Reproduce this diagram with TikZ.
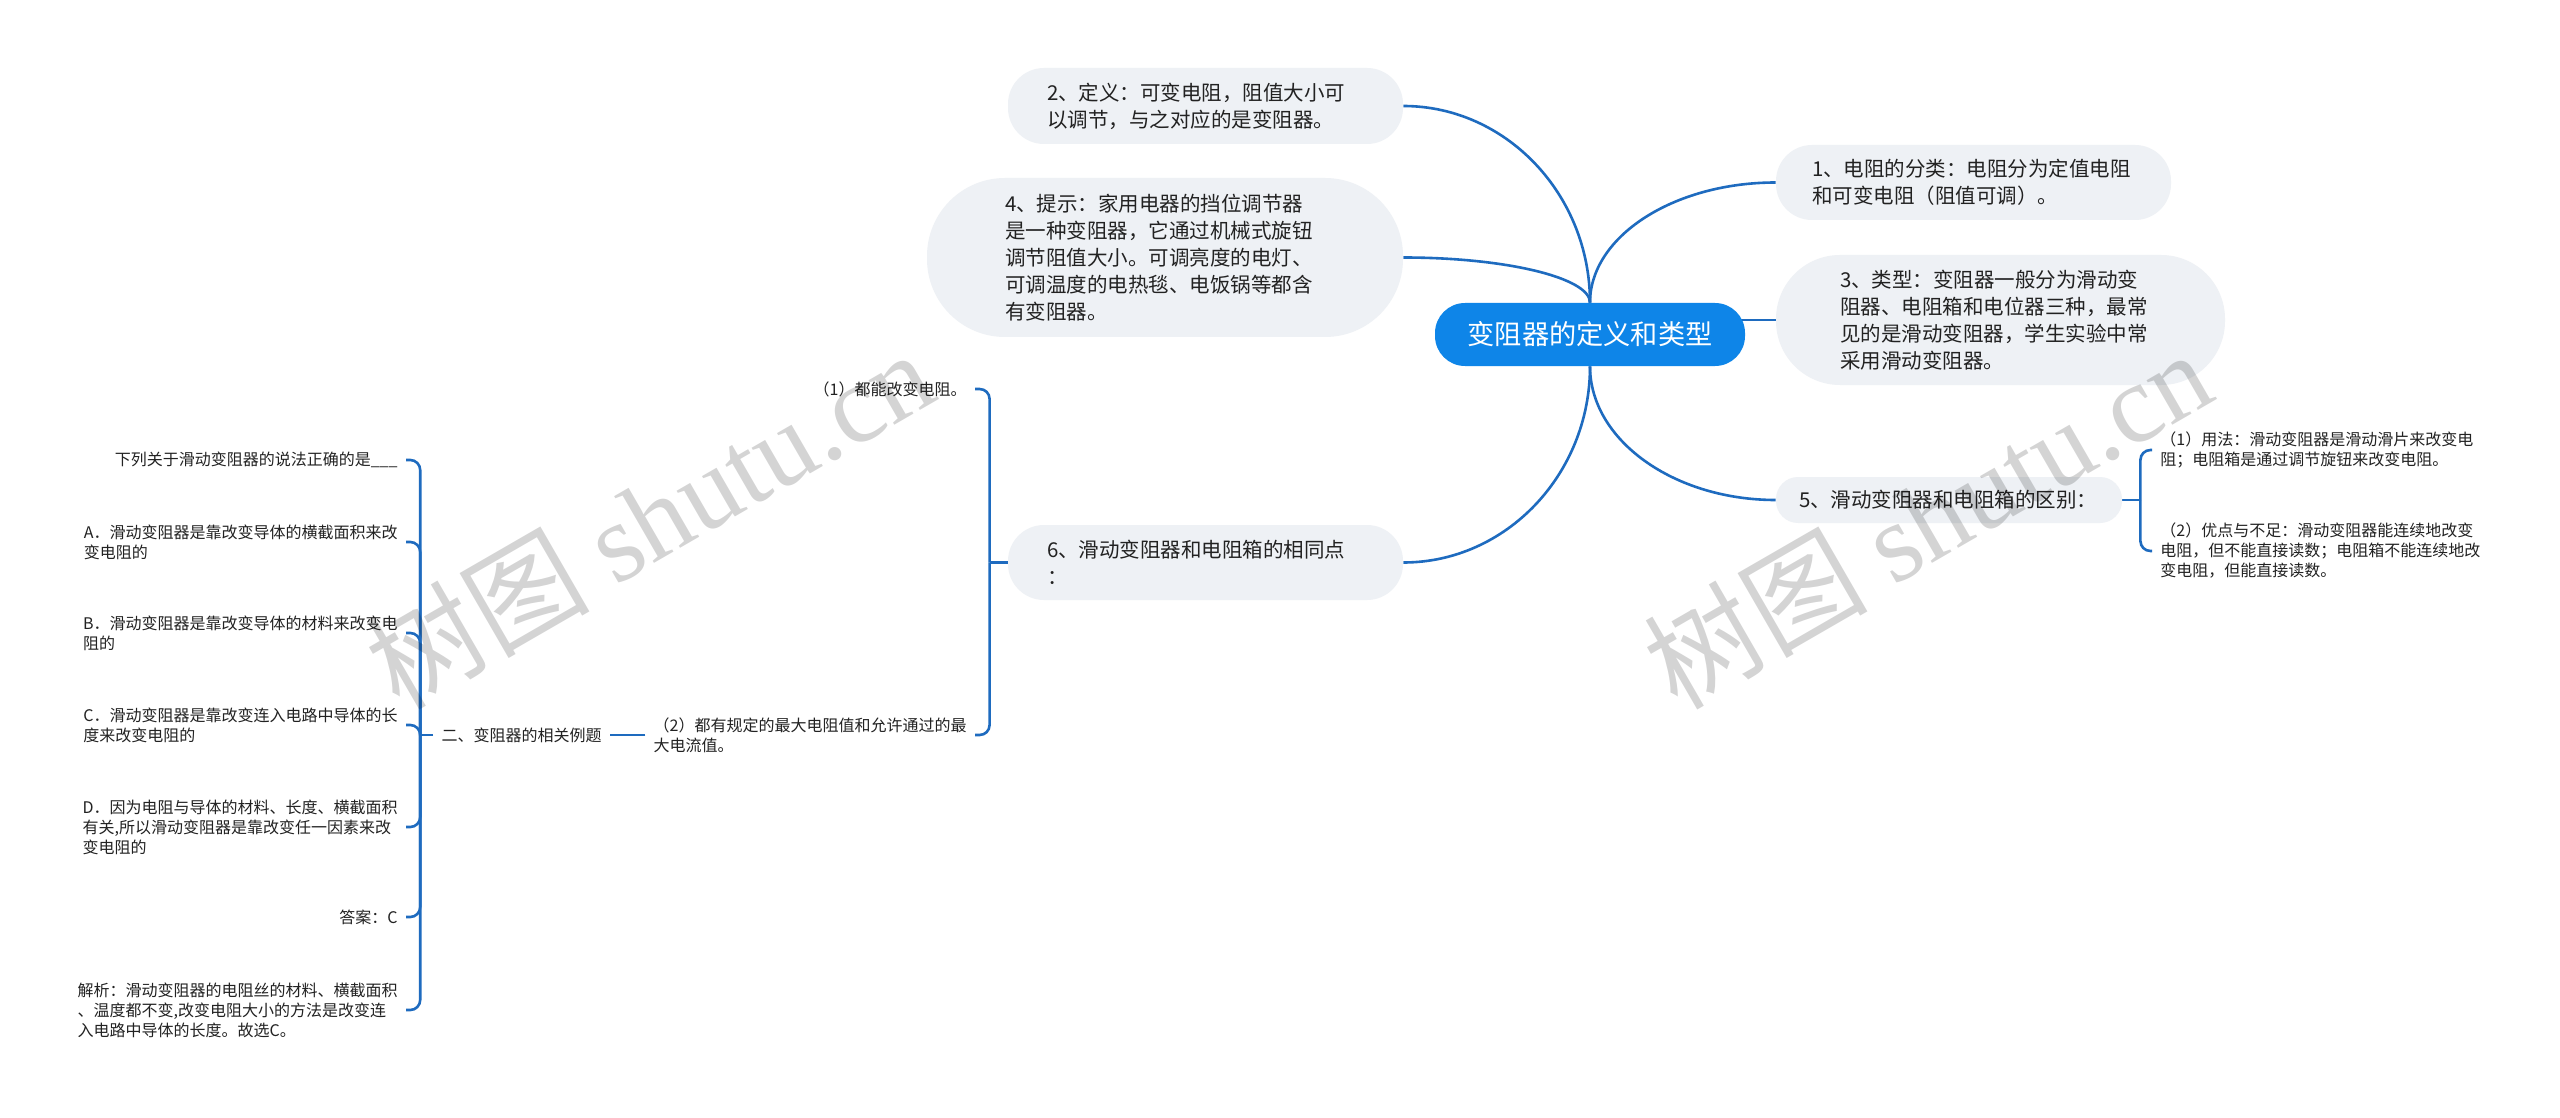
\documentclass[tikz,border=0pt]{standalone}
\usepackage{fontspec}
\setmainfont{Noto Sans CJK SC}
\newfontfamily\wmlatin{Liberation Serif}
\usepackage{tikz}
\usetikzlibrary{calc}
\usetikzlibrary{positioning}
\definecolor{rootblue}{HTML}{0E85E8}
\definecolor{linkblue}{HTML}{1E6BBF}
\definecolor{bubblegray}{HTML}{EEF1F5}
\definecolor{inkgray}{HTML}{222222}
\pgfdeclarelayer{bg}
\pgfsetlayers{bg,main}
\tikzset{>=latex}
\tikzstyle{link} = [draw = linkblue, line width = 1.3pt]
\tikzstyle{bubble} = [fill = bubblegray, text = inkgray, align = left, inner ysep = 0pt, font = \fontsize{10.25}{13.5}\selectfont]
\tikzstyle{leaf} = [text = inkgray, align = left, inner xsep = 4pt, inner ysep = 1pt, font = \fontsize{8}{10}\selectfont]
\tikzstyle{wmark} = [text = black, text opacity = 0.17, rotate = 30, inner sep = 0, font = \fontsize{56}{60}\selectfont]

\begin{document}
\begin{tikzpicture}[x = 0.5pt, y = -0.5pt]
\path [use as bounding box] (0, 0) rectangle (2560, 1118);
% centre topic
\node [fill = rootblue, text = white, rounded corners = 15pt, minimum width = 155pt, minimum height = 31.5pt, font = \fontsize{13.6}{16}\selectfont] (root) at (1590, 334.5) {变阻器的定义和类型};
% left side
\node [bubble, rounded corners = 18pt, text width = 158.5pt, inner xsep = 19.5pt, minimum height = 38pt] (def) at (1205.5, 106) {2、定义：可变电阻，阻值大小可\\以调节，与之对应的是变阻器。};
\node [bubble, rounded corners = 39pt, text width = 160pt, inner xsep = 39pt, minimum height = 79.5pt] (hint) at (1165, 257.5) {4、提示：家用电器的挡位调节器\\是一种变阻器，它通过机械式旋钮\\调节阻值大小。可调亮度的电灯、\\可调温度的电热毯、电饭锅等都含\\有变阻器。};
\node [bubble, rounded corners = 18pt, text width = 158.5pt, inner xsep = 19.5pt, minimum height = 37.5pt] (same) at (1205.5, 562.5) {6、滑动变阻器和电阻箱的相同点\\：};
% right side
\node [bubble, rounded corners = 18pt, text width = 161.5pt, inner xsep = 18pt, minimum height = 37.5pt] (cls) at (1973.5, 182.5) {1、电阻的分类：电阻分为定值电阻\\和可变电阻（阻值可调）。};
\node [bubble, rounded corners = 32pt, text width = 160.5pt, inner xsep = 32pt, minimum height = 65pt] (kind) at (2000.5, 320) {3、类型：变阻器一般分为滑动变\\阻器、电阻箱和电位器三种，最常\\见的是滑动变阻器，学生实验中常\\采用滑动变阻器。};
\node [bubble, rounded corners = 11pt, text width = 150pt, inner xsep = 11.5pt, minimum height = 23pt] (diff) at (1949, 500) {5、滑动变阻器和电阻箱的区别：};
% leaves of 5
\node [leaf, anchor = west] (use) at (2152, 450) {（1）用法：滑动变阻器是滑动滑片来改变电\\阻；电阻箱是通过调节旋钮来改变电阻。};
\node [leaf, anchor = west] (pro) at (2152, 551) {（2）优点与不足：滑动变阻器能连续地改变\\电阻，但不能直接读数；电阻箱不能连续地改\\变电阻，但能直接读数。};
% leaves of 6
\node [leaf, anchor = east] (s1) at (975, 389) {（1）都能改变电阻。};
\node [leaf, anchor = east] (s2) at (975, 735) {（2）都有规定的最大电阻值和允许通过的最\\大电流值。};
\node [leaf, anchor = east] (ex) at (610, 735) {二、变阻器的相关例题};
% example question
\node [leaf, anchor = east] (q) at (406, 460) {下列关于滑动变阻器的说法正确的是\_\_\_};
\node [leaf, anchor = east] (oa) at (406, 542) {A．滑动变阻器是靠改变导体的横截面积来改\\变电阻的};
\node [leaf, anchor = east] (ob) at (406, 633) {B．滑动变阻器是靠改变导体的材料来改变电\\阻的};
\node [leaf, anchor = east] (oc) at (406, 725) {C．滑动变阻器是靠改变连入电路中导体的长\\度来改变电阻的};
\node [leaf, anchor = east] (od) at (406, 827) {D．因为电阻与导体的材料、长度、横截面积\\有关,所以滑动变阻器是靠改变任一因素来改\\变电阻的};
\node [leaf, anchor = east] (ans) at (406, 917) {答案：C};
\node [leaf, anchor = east] (jx) at (406, 1010) {解析：滑动变阻器的电阻丝的材料、横截面积\\、温度都不变,改变电阻大小的方法是改变连\\入电路中导体的长度。故选C。};
% forks
\coordinate (forkd) at ($(diff.east) + (18, 0)$);
\coordinate (forks) at ($(same.west) + (-18, 0)$);
\coordinate (forke) at ($(ex.west) + (-13, 0)$);

\begin{pgfonlayer}{bg}
\fill [white] (0, 0) rectangle (2560, 1118);
\draw [link] (def.east) .. controls ($(def.east)!.55!(def.east -| root.north)$) and ($(root.north)!.55!(def.east -| root.north)$) .. (root.north);
\draw [link] (hint.east) .. controls ($(hint.east)!.55!(hint.east -| root.north)$) and ($(root.north)!.55!(hint.east -| root.north)$) .. (root.north);
\draw [link] (cls.west) .. controls ($(cls.west)!.55!(cls.west -| root.north)$) and ($(root.north)!.55!(cls.west -| root.north)$) .. (root.north);
\draw [link] (same.east) .. controls ($(same.east)!.55!(same.east -| root.south)$) and ($(root.south)!.55!(same.east -| root.south)$) .. (root.south);
\draw [link] (diff.west) .. controls ($(diff.west)!.55!(diff.west -| root.south)$) and ($(root.south)!.55!(diff.west -| root.south)$) .. (root.south);
\draw [link] (root.center |- kind.west) -- (kind.west);
\draw [link] (diff.east) -- (forkd);
\draw [link, rounded corners = 5pt] (forkd) |- (use.west);
\draw [link, rounded corners = 5pt] (forkd) |- (pro.west);
\draw [link] (same.west) -- (forks);
\draw [link, rounded corners = 5pt] (forks) |- (s1.east);
\draw [link, rounded corners = 5pt] (forks) |- (s2.east);
\draw [link] (s2.west) -- (ex.east);
\draw [link] (ex.west) -- (forke);
\draw [link, rounded corners = 5pt] (forke) |- (q.east);
\draw [link, rounded corners = 5pt] (forke) |- (oa.east);
\draw [link, rounded corners = 5pt] (forke) |- (ob.east);
\draw [link, rounded corners = 5pt] (forke) |- (oc.east);
\draw [link, rounded corners = 5pt] (forke) |- (od.east);
\draw [link, rounded corners = 5pt] (forke) |- (ans.east);
\draw [link, rounded corners = 5pt] (forke) |- (jx.east);
\end{pgfonlayer}
% watermarks
\node [wmark] (wm1) at (649, 518) {树图 {\wmlatin shutu.cn}};
\node [wmark] (wm2) at (1927, 518) {树图 {\wmlatin shutu.cn}};
\end{tikzpicture}
\end{document}
